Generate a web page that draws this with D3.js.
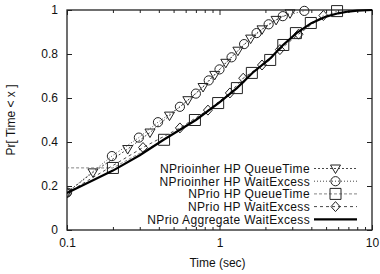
<!DOCTYPE html>
<html>
<head>
<meta charset="utf-8">
<script src="https://cdn.jsdelivr.net/npm/d3@7"></script>
<style>
  body { margin: 0; background: #fff; }
  text { font-family: "Liberation Sans", Arial, sans-serif; fill: #111; }
</style>
</head>
<body>
<svg id="chart" width="380" height="274"></svg>
<script>

// Series data: [time (sec), Pr]
const inherQueueTime = [[0.1,0.17],[0.148,0.262],[0.25,0.368],[0.35,0.443],[0.47,0.52],[0.62,0.59],[0.78,0.65],[0.93,0.705],[1.1,0.76],[1.32,0.815],[1.6,0.87],[1.9,0.912],[2.35,0.955],[2.9,0.985]]
const inherWaitExcess = [[0.1,0.17],[0.197,0.336],[0.296,0.42],[0.395,0.49],[0.55,0.56],[0.7,0.62],[0.85,0.68],[1.0,0.73],[1.2,0.785],[1.45,0.845],[1.75,0.895],[2.1,0.935],[2.6,0.972],[3.6,0.996]]
const nprioQueueTime = [[0.05,0.283],[0.2,0.282],[0.433,0.41],[0.69,0.5],[0.98,0.577],[1.3,0.645],[1.63,0.714],[2.15,0.773],[2.62,0.841],[3.17,0.895],[3.97,0.941],[5.9,0.995]]
const nprioWaitExcess = [[0.1,0.168],[0.315,0.375],[0.55,0.464],[0.84,0.545],[1.17,0.623],[1.43,0.69],[1.9,0.75],[2.49,0.82],[3.3,0.89],[4.8,0.975]]
const nprioAggregate = [[0.1,0.168],[0.2,0.27],[0.3,0.34],[0.43,0.41],[0.7,0.5],[1.0,0.58],[1.3,0.645],[1.65,0.715],[2.15,0.78],[2.6,0.84],[3.2,0.895],[4.0,0.94],[5.0,0.97],[6.0,0.985],[7.0,0.993],[8.0,0.997],[10,1.0]]

const seriesNames = ['NPrioinher HP QueueTime', 'NPrioinher HP WaitExcess', 'NPrio HP QueueTime', 'NPrio HP WaitExcess', 'NPrio Aggregate WaitExcess']
const xTickLabels = [0.1, 1, 10]
const yTickLabels = [0, 0.2, 0.4, 0.6, 0.8, 1]

const svg = d3.select('#chart')

// Plot Area
const plotLeft = 67, plotRight = 372, plotTop = 10, plotBottom = 230

const x = d3.scaleLog().domain([0.1, 10]).range([plotLeft, plotRight])
const y = d3.scaleLinear().domain([0, 1]).range([plotBottom, plotTop])

// Minor log ticks 2..9 per decade
const minorTicks = []
;[0.1, 1].forEach(function(d){
    for (let k = 2; k <= 9; k++) minorTicks.push(d * k)
})

svg.append('clipPath').attr('id', 'plot-clip')
    .append('rect')
    .attr('x', plotLeft).attr('y', plotTop - 6)
    .attr('width', plotRight - plotLeft).attr('height', plotBottom - plotTop + 6)

// Axes (gnuplot style: ticks inward, mirrored)
function styleAxis(g){
    g.select('.domain').remove()
    g.selectAll('line').attr('stroke', '#222')
    g.selectAll('text').style('font-size', '12px').attr('fill', '#111')
}

svg.append('g')
    .attr('transform', 'translate(0,' + plotBottom + ')')
    .call(d3.axisBottom(x).tickValues(xTickLabels).tickSize(-5).tickPadding(8).tickFormat(d3.format('')))
    .call(styleAxis)

svg.append('g')
    .attr('transform', 'translate(0,' + plotBottom + ')')
    .call(d3.axisBottom(x).tickValues(minorTicks).tickSize(-3).tickFormat(''))
    .call(styleAxis)

svg.append('g')
    .attr('transform', 'translate(0,' + plotTop + ')')
    .call(d3.axisTop(x).tickValues(xTickLabels).tickSize(-5).tickFormat(''))
    .call(styleAxis)

svg.append('g')
    .attr('transform', 'translate(0,' + plotTop + ')')
    .call(d3.axisTop(x).tickValues(minorTicks).tickSize(-3).tickFormat(''))
    .call(styleAxis)

svg.append('g')
    .attr('transform', 'translate(' + plotLeft + ',0)')
    .call(d3.axisLeft(y).tickValues(yTickLabels).tickSize(-5).tickPadding(9).tickFormat(d3.format('')))
    .call(styleAxis)

svg.append('g')
    .attr('transform', 'translate(' + plotRight + ',0)')
    .call(d3.axisRight(y).tickValues(yTickLabels).tickSize(-5).tickFormat(''))
    .call(styleAxis)

// Frame
svg.append('rect')
    .attr('x', plotLeft).attr('y', plotTop)
    .attr('width', plotRight - plotLeft).attr('height', plotBottom - plotTop)
    .attr('fill', 'none')
    .attr('stroke', '#222')
    .attr('stroke-width', 1.3)

// Axis Titles
svg.append('text')
    .attr('x', (plotLeft + plotRight) / 2 - 2)
    .attr('y', 267)
    .attr('text-anchor', 'middle')
    .style('font-size', '12px')
    .text('Time (sec)')

svg.append('text')
    .attr('transform', 'translate(15,120) rotate(-90)')
    .attr('text-anchor', 'middle')
    .style('font-size', '12px')
    .text('Pr[ Time < x ]')

// Marker Shapes
function marker(g, type, cx, cy){
    const s = g.append('path')
        .attr('fill', 'none')
        .attr('stroke', '#222')
        .attr('stroke-width', 1)
    if (type == 'triangle'){
        s.attr('d', 'M' + (cx-5) + ',' + (cy-3.5) + 'L' + (cx+5) + ',' + (cy-3.5) + 'L' + cx + ',' + (cy+5) + 'Z')
    } else if (type == 'circle'){
        s.attr('d', d3.arc().innerRadius(0).outerRadius(4.6)({startAngle: 0, endAngle: 2*Math.PI}))
            .attr('transform', 'translate(' + cx + ',' + cy + ')')
    } else if (type == 'square'){
        s.attr('d', 'M' + (cx-5.5) + ',' + (cy-5.5) + 'h11v11h-11Z')
    } else if (type == 'diamond'){
        s.attr('d', 'M' + cx + ',' + (cy-5) + 'L' + (cx+4.5) + ',' + cy + 'L' + cx + ',' + (cy+5) + 'L' + (cx-4.5) + ',' + cy + 'Z')
    }
}

const series = [
    {data: inherQueueTime, type: 'triangle', color: '#333', dash: '2,2', width: 0.9},
    {data: inherWaitExcess, type: 'circle', color: '#333', dash: '1,2', width: 0.9},
    {data: nprioQueueTime, type: 'square', color: '#777', dash: '3,2', width: 0.9},
    {data: nprioWaitExcess, type: 'diamond', color: '#333', dash: '3,3', width: 0.9},
    {data: nprioAggregate, type: null, color: '#000', dash: null, width: 2.2}
]

const line = d3.line().x(d => x(d[0])).y(d => y(d[1]))

const plot = svg.append('g').attr('clip-path', 'url(#plot-clip)')

series.forEach(function(s){
    plot.append('path')
        .datum(s.data)
        .attr('d', line)
        .attr('fill', 'none')
        .attr('stroke', s.color)
        .attr('stroke-width', s.width)
        .attr('stroke-dasharray', s.dash)
    if (s.type){
        s.data.forEach(function(d){
            if (d[0] >= 0.1) marker(plot, s.type, x(d[0]), y(d[1]))
        })
    }
})

// Legend
const legendRight = 310, legendY0 = 168.5, legendStep = 12.7
seriesNames.forEach(function(name, i){
    const s = series[i]
    const ly = legendY0 + i * legendStep
    svg.append('text')
        .attr('x', legendRight)
        .attr('y', ly + 4.3)
        .attr('text-anchor', 'end')
        .style('font-size', '12px')
        .style('letter-spacing', '0.35px')
        .text(name)
    svg.append('line')
        .attr('x1', 314).attr('x2', 357)
        .attr('y1', ly).attr('y2', ly)
        .attr('stroke', s.color)
        .attr('stroke-width', s.width)
        .attr('stroke-dasharray', s.dash)
    if (s.type) marker(svg, s.type, 335.5, ly)
})

</script>
</body>
</html>
